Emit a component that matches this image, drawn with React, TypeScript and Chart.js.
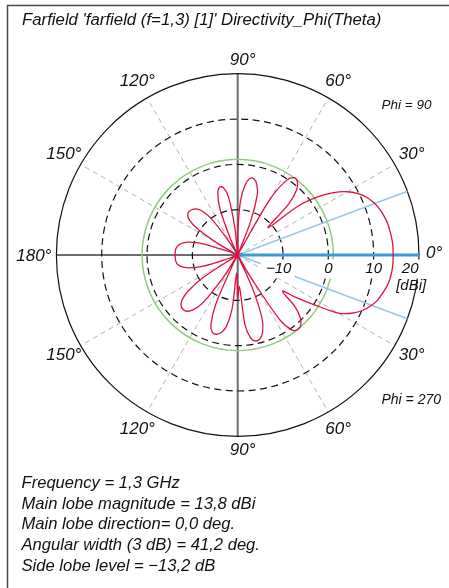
import React, { useEffect, useRef } from "react";
import { Chart, registerables } from "chart.js";

Chart.register(...registerables);

// ---------- chart content ----------
const TITLE = "Farfield 'farfield (f=1,3) [1]' Directivity_Phi(Theta)";
const INFO_LINES = [
  "Frequency = 1,3 GHz",
  "Main lobe magnitude = 13,8 dBi",
  "Main lobe direction= 0,0 deg.",
  "Angular width (3 dB) = 41,2 deg.",
  "Side lobe level = \u221213,2 dB",
];
const PHI_UPPER_LABEL = "Phi = 90";
const PHI_LOWER_LABEL = "Phi = 270";

// radial axis (dBi)
const RADIAL_MIN = -20;
const RADIAL_MAX = 20;
const RADIAL_TICKS = [-10, 0, 10, 20];
const RADIAL_UNIT = "[dBi]";

// angular labels (plot angle, counter-clockwise from the right)
const ANGLE_LABEL_POS = [0, 30, 60, 90, 120, 150, 180, 210, 240, 270, 300, 330];

// markers
const MAIN_LOBE_DIR = 0; // deg
const BEAMWIDTH_3DB = 41.2; // deg
const SIDE_LOBE_RING_DB = 1.1; // green ring as drawn

// theta samples (deg) for both half planes
const THETA_DEG = [
  0, 3, 6, 9, 12, 15, 18, 21, 24, 27, 30, 33, 36, 39, 42, 45, 48, 51, 54, 57,
  60, 63, 66, 69, 72, 75, 78, 81, 84, 87, 90, 93, 96, 99, 102, 105, 108, 111,
  114, 117, 120, 123, 126, 129, 132, 135, 138, 141, 144, 147, 150, 153, 156,
  159, 162, 165, 168, 171, 174, 177, 180,
];

// directivity (dBi), Phi = 90 half (upper)
const DIR_PHI90 = [
  14.3, 14.3, 14.2, 14.0, 13.8, 13.4, 12.9, 12.2, 11.2, 9.8, 7.9, 5.3, 1.8,
  -2.8, -11.0, -4.0, -0.5, 0.9, 1.1, -0.5, -6.0, -25, -25, -12, -6.0, -3.8,
  -2.8, -2.9, -4.5, -8.0, -15, -25, -14, -7.0, -4.8, -4.5, -5.8, -9.0, -16,
  -25, -25, -16, -10, -7.5, -6.3, -5.8, -5.6, -5.8, -6.8, -9.5, -15, -25, -25,
  -18, -12, -9.0, -7.5, -6.7, -6.3, -6.2, -6.2,
];

// directivity (dBi), Phi = 270 half (lower)
const DIR_PHI270 = [
  14.3, 14.3, 14.2, 14.0, 13.6, 13.0, 12.4, 11.4, 10.1, 8.3, 5.6, 0.2, -4.0,
  -7.3, -3.0, -0.5, 0.8, 1.1, 0.5, -3.0, -15, -22, -12, -5.0, -2.2, -0.9, -0.6,
  -1.4, -4.5, -13, -10.5, -16, -8.0, -4.0, -2.5, -1.9, -2.0, -3.5, -8.0, -18,
  -25, -14, -7.0, -4.5, -3.3, -3.0, -3.2, -4.2, -6.5, -11, -20, -25, -25, -18,
  -12, -9.0, -7.5, -6.6, -6.3, -6.2, -6.2,
];

// ---------- style ----------
const W = 449;
const H = 588;
const CX = 237.7;
const CY = 255;
const R_PX = 181.3;
const SPAN = RADIAL_MAX - RADIAL_MIN;
const FONT = "'Liberation Sans', Arial, sans-serif";
const TEXT = "#111";
const RED = "#e2103c";

const rad = (d: number) => (d * Math.PI) / 180;

const polarPlugin = {
  id: "polarDecor",
  beforeDatasetsDraw(chart: any) {
    const { ctx } = chart;
    const xs = chart.scales.x;
    const ys = chart.scales.y;
    const cx = xs.getPixelForValue(0);
    const cy = ys.getPixelForValue(0);
    const unit = xs.getPixelForValue(1) - cx;
    const ringPx = (db: number) => (db - RADIAL_MIN) * unit;
    const outer = ringPx(RADIAL_MAX);
    const pt = (r: number, deg: number) => [
      cx + r * Math.cos(rad(deg)),
      cy - r * Math.sin(rad(deg)),
    ];

    ctx.save();
    // frame
    ctx.strokeStyle = "#4a4a4a";
    ctx.lineWidth = 1.5;
    ctx.beginPath();
    ctx.moveTo(7.5, H);
    ctx.lineTo(7.5, 5.5);
    ctx.lineTo(W, 5.5);
    ctx.stroke();

    // dashed gray spokes
    ctx.strokeStyle = "#b0b0b0";
    ctx.lineWidth = 1;
    ctx.setLineDash([5, 4]);
    for (let a = 30; a < 360; a += 30) {
      if (a % 90 === 0) continue;
      const [x, y] = pt(outer, a);
      ctx.beginPath();
      ctx.moveTo(cx, cy);
      ctx.lineTo(x, y);
      ctx.stroke();
    }
    ctx.setLineDash([]);

    // main axes
    ctx.strokeStyle = "#6e6e6e";
    ctx.lineWidth = 2;
    ctx.beginPath();
    ctx.moveTo(cx - outer, cy);
    ctx.lineTo(cx + outer, cy);
    ctx.moveTo(cx, cy - outer);
    ctx.lineTo(cx, cy + outer);
    ctx.stroke();

    // rings
    ctx.strokeStyle = "#111";
    ctx.lineWidth = 1.2;
    RADIAL_TICKS.forEach((db) => {
      ctx.setLineDash(db === RADIAL_MAX ? [] : [7, 4.5]);
      ctx.beginPath();
      ctx.arc(cx, cy, ringPx(db), 0, Math.PI * 2);
      ctx.stroke();
    });
    ctx.setLineDash([]);

    // side lobe ring
    ctx.strokeStyle = "#8fcc7e";
    ctx.lineWidth = 1.5;
    ctx.beginPath();
    ctx.arc(cx, cy, ringPx(SIDE_LOBE_RING_DB), 0, Math.PI * 2);
    ctx.stroke();

    // beam lines
    ctx.strokeStyle = "#94c8ea";
    ctx.lineWidth = 1.5;
    [MAIN_LOBE_DIR + BEAMWIDTH_3DB / 2, MAIN_LOBE_DIR - BEAMWIDTH_3DB / 2].forEach((a) => {
      const [x, y] = pt(outer, a);
      ctx.beginPath();
      ctx.moveTo(cx, cy);
      ctx.lineTo(x, y);
      ctx.stroke();
    });
    ctx.strokeStyle = "#3d9ad8";
    ctx.lineWidth = 3;
    {
      const [x, y] = pt(outer, MAIN_LOBE_DIR);
      ctx.beginPath();
      ctx.moveTo(cx, cy);
      ctx.lineTo(x, y);
      ctx.stroke();
    }

    // radial tick labels with white boxes
    ctx.font = `italic 15px ${FONT}`;
    ctx.textBaseline = "middle";
    const ty = cy + 13.5;
    RADIAL_TICKS.forEach((db) => {
      const label = db < 0 ? `\u2212${Math.abs(db)}` : `${db}`;
      const digits = `${Math.abs(db)}`;
      const w = ctx.measureText(label).width;
      const dw = ctx.measureText(digits).width;
      const xr = cx + ringPx(db);
      let right: number;
      if (db === RADIAL_MAX) right = xr - 0.5;
      else right = xr + dw / 2;
      const left = right - w;
      ctx.fillStyle = "#fff";
      ctx.fillRect(left - 5, ty - 9, w + 8, 19);
      ctx.fillStyle = TEXT;
      ctx.textAlign = "left";
      ctx.fillText(label, left, ty);
      if (db === RADIAL_MAX) {
        ctx.textAlign = "center";
        ctx.fillText(RADIAL_UNIT, right - w / 2 + 1, ty + 17.5);
      }
    });

    // angle labels
    ctx.font = `italic 17px ${FONT}`;
    ctx.fillStyle = TEXT;
    ANGLE_LABEL_POS.forEach((a) => {
      const val = a <= 180 ? a : 360 - a;
      const label = `${val}\u00b0`;
      if (a === 0) {
        ctx.textAlign = "left";
        ctx.fillText(label, cx + outer + 7, cy - 2);
      } else if (a === 180) {
        ctx.textAlign = "right";
        ctx.fillText(label, cx - outer - 5, cy + 1);
      } else if (a === 90 || a === 270) {
        ctx.textAlign = "center";
        const [x, y] = pt(outer + 13.5, a);
        ctx.fillText(label, x + 5, y);
      } else {
        ctx.textAlign = "center";
        const [x, y] = pt(outer + 19.5, a);
        ctx.fillText(label, x, y);
      }
    });

    // phi labels
    ctx.font = `italic 13.5px ${FONT}`;
    ctx.textAlign = "left";
    ctx.fillText(PHI_UPPER_LABEL, 381.5, 105);
    ctx.font = `italic 14px ${FONT}`;
    ctx.fillText(PHI_LOWER_LABEL, 381.5, 400);

    // title
    ctx.font = `italic 16.8px ${FONT}`;
    ctx.fillText(TITLE, 22, 20);

    // info
    ctx.font = `italic 16.6px ${FONT}`;
    INFO_LINES.forEach((s, i) => ctx.fillText(s, 21.5, 483.5 + i * 20.6));
    ctx.restore();
  },
};

export default function App() {
  const ref = useRef<HTMLCanvasElement>(null);

  useEffect(() => {
    const canvas = ref.current;
    if (!canvas) return;
    const pts: { x: number; y: number }[] = [];
    THETA_DEG.forEach((t, i) => {
      const r = Math.max(0, DIR_PHI90[i] - RADIAL_MIN);
      pts.push({ x: r * Math.cos(rad(t)), y: r * Math.sin(rad(t)) });
    });
    for (let i = THETA_DEG.length - 1; i >= 0; i--) {
      const t = THETA_DEG[i];
      const r = Math.max(0, DIR_PHI270[i] - RADIAL_MIN);
      pts.push({ x: r * Math.cos(rad(t)), y: -r * Math.sin(rad(t)) });
    }

    const chart = new Chart(canvas, {
      type: "scatter",
      data: {
        datasets: [
          {
            data: pts,
            showLine: true,
            borderColor: RED,
            backgroundColor: RED,
            borderWidth: 1.3,
            pointRadius: 0,
            tension: 0.35,
            fill: false,
            clip: false as any,
          } as any,
        ],
      },
      options: {
        responsive: false,
        animation: false,
        events: [],
        layout: {
          padding: {
            left: CX - R_PX,
            right: W - (CX + R_PX),
            top: CY - R_PX,
            bottom: H - (CY + R_PX),
          },
        },
        scales: {
          x: { type: "linear", min: -SPAN, max: SPAN, display: false },
          y: { type: "linear", min: -SPAN, max: SPAN, display: false },
        },
        plugins: {
          legend: { display: false },
          tooltip: { enabled: false },
        },
      },
      plugins: [polarPlugin],
    });
    return () => chart.destroy();
  }, []);

  return (
    <div
      style={{
        position: "absolute",
        left: 0,
        top: 0,
        width: W,
        height: H,
        background: "#fff",
      }}
    >
      <canvas
        ref={ref}
        width={W}
        height={H}
        style={{ display: "block", width: W, height: H }}
      />
    </div>
  );
}
